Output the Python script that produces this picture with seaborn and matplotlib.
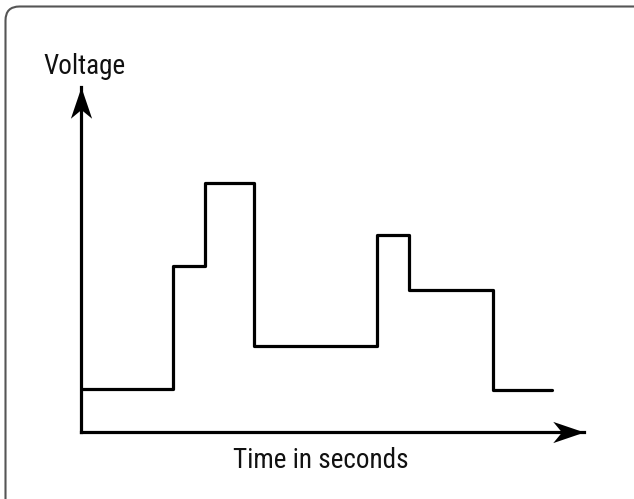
import numpy as np
import pandas as pd
import matplotlib
matplotlib.use("Agg")
import matplotlib.pyplot as plt
from matplotlib import font_manager
from matplotlib.patches import FancyBboxPatch
from matplotlib.path import Path
from matplotlib.transforms import IdentityTransform
import seaborn as sns

# step signal (time in s, voltage levels)
time_s = [0, 9.2, 12.4, 17.3, 29.6, 32.8, 41.2, 47.1]
voltage = [4.3, 16.6, 24.9, 8.6, 19.7, 14.2, 4.2, 4.2]
x_max = 50.3
y_max = 34.5

sns.set_style("white")

# narrow font if there is one
installed = {f.name for f in font_manager.fontManager.ttflist}
font = "Roboto"
for cand in ["Roboto Condensed", "Liberation Sans Narrow"]:
    if cand in installed:
        font = cand
        break
plt.rcParams["font.family"] = [font, "DejaVu Sans"]
label_size = 19.5 if font != "Roboto" else 17.5

df = pd.DataFrame({"time": time_s, "voltage": voltage})

fig = plt.figure(figsize=(6.34, 4.99), dpi=100)
ax = fig.add_axes([81 / 634, 67 / 499, 503 / 634, 345 / 499])

sns.lineplot(data=df, x="time", y="voltage", drawstyle="steps-post",
             estimator=None, color="black", linewidth=2.3, ax=ax)

ax.set_xlim(0, x_max)
ax.set_ylim(0, y_max)
ax.set_xticks([])
ax.set_yticks([])
ax.set_xlabel("")
ax.set_ylabel("")
for s in ["top", "right"]:
    ax.spines[s].set_visible(False)
for s in ["left", "bottom"]:
    ax.spines[s].set_color("black")
    ax.spines[s].set_linewidth(2.3)

# notched arrow heads
up = Path([(0, 0), (-0.34, -1), (0, -0.72), (0.34, -1), (0, 0)],
          [Path.MOVETO, Path.LINETO, Path.LINETO, Path.LINETO, Path.CLOSEPOLY])
right = Path([(0, 0), (-1, 0.34), (-0.72, 0), (-1, -0.34), (0, 0)],
             [Path.MOVETO, Path.LINETO, Path.LINETO, Path.LINETO, Path.CLOSEPOLY])
ax.plot([0], [y_max], marker=up, markersize=45, color="black",
        markeredgewidth=0, clip_on=False)
ax.plot([x_max], [0], marker=right, markersize=45, color="black",
        markeredgewidth=0, clip_on=False)

fig.text(43 / 634, 1 - 74 / 499, "Voltage", fontsize=label_size,
         ha="left", va="baseline", color="#111111")
fig.text(321 / 634, 1 - 468 / 499, "Time in seconds", fontsize=label_size,
         ha="center", va="baseline", color="#111111")

# outer frame, cut off at right and bottom
frame = FancyBboxPatch((5.5, -30), 700, 499 - 6.5 + 30,
                       boxstyle="round,pad=0,rounding_size=14",
                       transform=IdentityTransform(), facecolor="none",
                       edgecolor="#555555", linewidth=1.5)
fig.patches.append(frame)

fig.savefig("out.png", dpi=100)
